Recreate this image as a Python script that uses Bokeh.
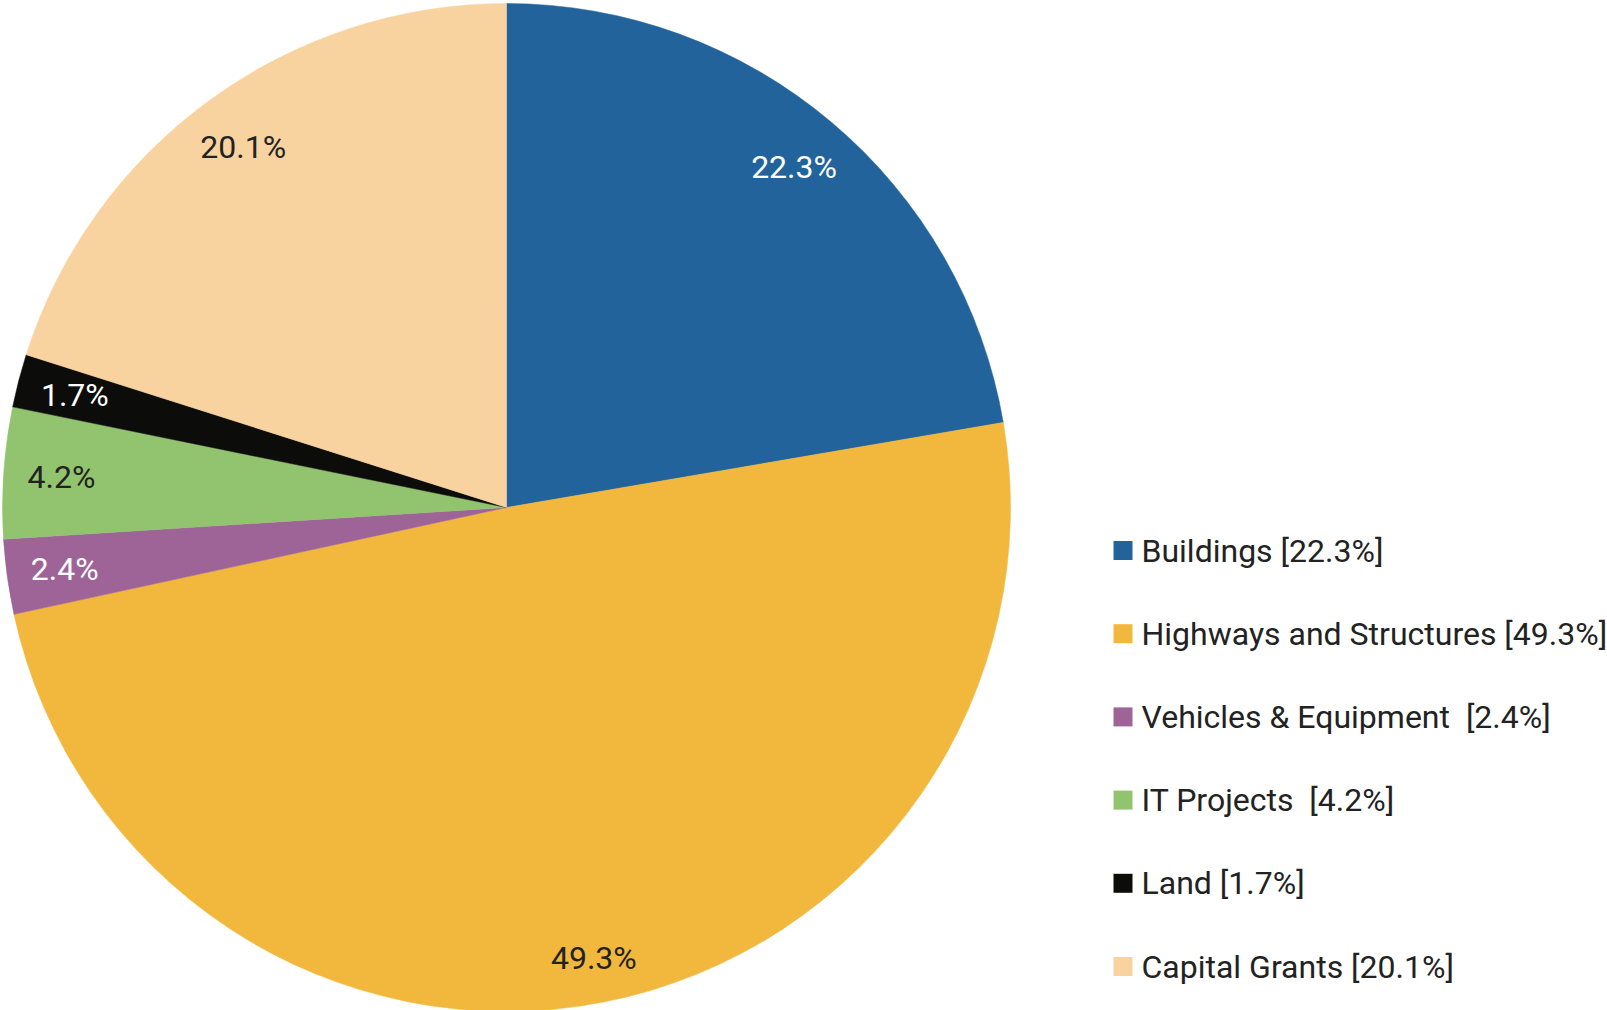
import math
from bokeh.plotting import figure
from bokeh.models import Range1d, ColumnDataSource
from bokeh.core.properties import value
from bokeh.embed import file_html
from bokeh.resources import INLINE

categories = ["Buildings", "Highways and Structures", "Vehicles & Equipment", "IT Projects", "Land", "Capital Grants"]
shares = [22.3, 49.3, 2.4, 4.2, 1.7, 20.1]
legend_labels = ["Buildings [22.3%]", "Highways and Structures [49.3%]", "Vehicles & Equipment\u00a0 [2.4%]",
                 "IT Projects\u00a0 [4.2%]", "Land [1.7%]", "Capital Grants [20.1%]"]
colors = ["#23639c", "#f1b83d", "#9e6498", "#92c46f", "#0c0c0a", "#f8d3a0"]
label_colors = ["#ffffff", "#222222", "#ffffff", "#222222", "#ffffff", "#222222"]

OFF = 0
W, H = 1607, 1010
CX, CY, R = 506, 507, 504  # page px of pie centre and radius


def dx(px):
    return (px - CX) / R


def dy(py):
    return (CY - py) / R


p = figure(width=W, height=H, output_backend="svg", toolbar_location=None,
           x_range=Range1d(dx(OFF), dx(OFF + W)), y_range=Range1d(dy(OFF + H), dy(OFF)),
           min_border=0, outline_line_color=None)
p.axis.visible = False
p.grid.visible = False
p.background_fill_color = "white"
p.border_fill_color = "white"

total = sum(shares)
starts, ends, lx, ly, texts = [], [], [], [], []
cum = 0.0
for s in shares:
    a0 = math.pi / 2 - 2 * math.pi * cum / total
    cum += s
    a1 = math.pi / 2 - 2 * math.pi * cum / total
    starts.append(a0)
    ends.append(a1)
    mid = (a0 + a1) / 2
    lr = 0.91 if s > 40 else 0.885
    lx.append(lr * math.cos(mid))
    ly.append(lr * math.sin(mid))
    texts.append(f"{s}%")

src = ColumnDataSource(dict(start=starts, end=ends, color=colors, lx=lx, ly=ly,
                            text=texts, tcolor=label_colors))
p.wedge(x=0, y=0, radius=1, start_angle="start", end_angle="end", direction="clock",
        fill_color="color", line_color="color", line_width=0.5, source=src)
p.text(x="lx", y="ly", text="text", text_color="tcolor", source=src,
       text_font=value("Roboto"), text_font_size="32px",
       text_align="center", text_baseline="middle")

# legend
n = len(categories)
sq_x = [dx(1122.5)] * n
row_y = [dy(550 + 83.2 * i) for i in range(n)]
lsrc = ColumnDataSource(dict(x=sq_x, y=row_y, color=colors, tx=[dx(1141)] * n, text=legend_labels))
p.scatter(x="x", y="y", marker="square", size=19, fill_color="color", line_color=None, source=lsrc)
p.text(x="tx", y="y", text="text", text_color="#222222", source=lsrc,
       text_font=value("Roboto"), text_font_size="32px",
       text_align="left", text_baseline="middle")

open("out.html", "w").write(file_html(p, INLINE))
